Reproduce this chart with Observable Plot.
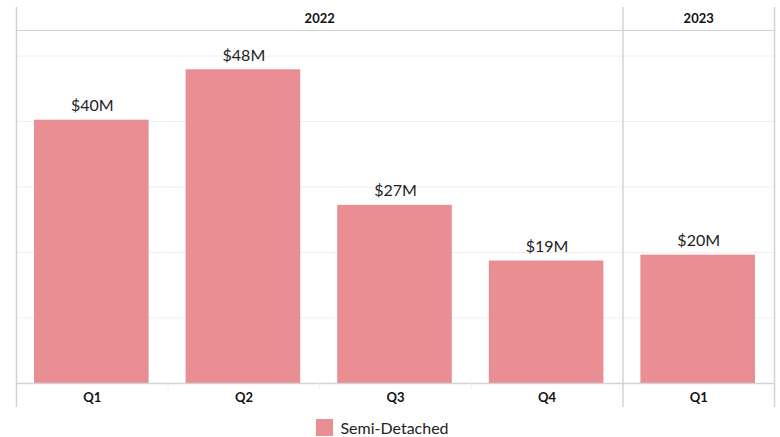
<!DOCTYPE html>
<html>
<head>
<meta charset="utf-8">
<script src="https://cdn.jsdelivr.net/npm/d3@7"></script>
<script src="https://cdn.jsdelivr.net/npm/@observablehq/plot@0.6"></script>
<style>
  html, body { margin: 0; padding: 0; background: #fff; }
  #chart { width: 780px; }
  .legend { display: flex; align-items: center; justify-content: center; height: 27px; padding-right: 15px; margin-top: 4px;
            font-family: Lato, "Open Sans", sans-serif; font-size: 16px; color: #222; }
  .legend .sw { width: 17px; height: 17px; margin-right: 7px; }
</style>
</head>
<body>
<div id="chart"></div>
<script>
// ---- data ----
const years    = ["2022", "2022", "2022", "2022", "2023"];
const quarters = ["Q1", "Q2", "Q3", "Q4", "Q1"];
const values   = [40.2, 47.9, 27.2, 18.7, 19.6];   // $M, Semi-Detached
const seriesName = "Semi-Detached";
const gridTicks = [10, 20, 30, 40, 50];
const yMax = 53.9;
const barColor = "#E98E93";

// ---- derived tables ----
const rows = values.map((v, i) => ({i, year: years[i], quarter: quarters[i], value: v}));
const yearGroups = [];
years.forEach((y, i) => {
  const g = yearGroups[yearGroups.length - 1];
  if (g && g.year === y) g.end = i + 1;
  else yearGroups.push({year: y, start: i, end: i + 1});
});
const bounds = [0, ...yearGroups.map(g => g.end)];
const innerTicks = rows.filter(d => d.i > 0 && !bounds.includes(d.i)).map(d => d.i);

const font = "Lato, 'Open Sans', sans-serif";

const chart = Plot.plot({
  width: 780,
  height: 410,
  marginLeft: 16,
  marginRight: 6,
  marginTop: 30,
  marginBottom: 27,
  style: {fontFamily: font, background: "#fff"},
  x: {type: "linear", domain: [0, rows.length], axis: null},
  y: {domain: [0, yMax], axis: null},
  marks: [
    Plot.ruleY(gridTicks, {stroke: "#efefef", strokeWidth: 1}),
    Plot.ruleY([yMax], {stroke: "#d3d3d3", strokeWidth: 1}),
    Plot.rectY(rows, {x1: "i", x2: d => d.i + 1, y: "value", fill: barColor, insetLeft: 18, insetRight: 19}),
    Plot.ruleY([0], {stroke: "#d3d3d3", strokeWidth: 1.5}),
    Plot.ruleX(innerTicks, {y1: 0, y2: 0, insetBottom: -6, stroke: "#eeeeee"}),
    Plot.ruleX(bounds, {stroke: "#d3d3d3", strokeWidth: 1.5, insetTop: -23, insetBottom: -24}),
    Plot.text(rows, {x: d => d.i + 0.5, y: "value", text: d => `$${Math.round(d.value)}M`,
      dy: -14, fontSize: 16, fill: "#222"}),
    Plot.text(rows, {x: d => d.i + 0.5, text: "quarter", frameAnchor: "bottom", lineAnchor: "middle", dy: 14.5,
      fontSize: 13, fontWeight: "bold", fill: "#111"}),
    Plot.text(yearGroups, {x: d => (d.start + d.end) / 2, text: "year", frameAnchor: "top", lineAnchor: "middle", dy: -11.5,
      fontSize: 13, fontWeight: "bold", fill: "#111"})
  ]
});

const container = document.getElementById("chart");
container.appendChild(chart);

const legend = document.createElement("div");
legend.className = "legend";
const sw = document.createElement("span");
sw.className = "sw";
sw.style.background = barColor;
const lab = document.createElement("span");
lab.textContent = seriesName;
legend.appendChild(sw);
legend.appendChild(lab);
container.appendChild(legend);
</script>
</body>
</html>
